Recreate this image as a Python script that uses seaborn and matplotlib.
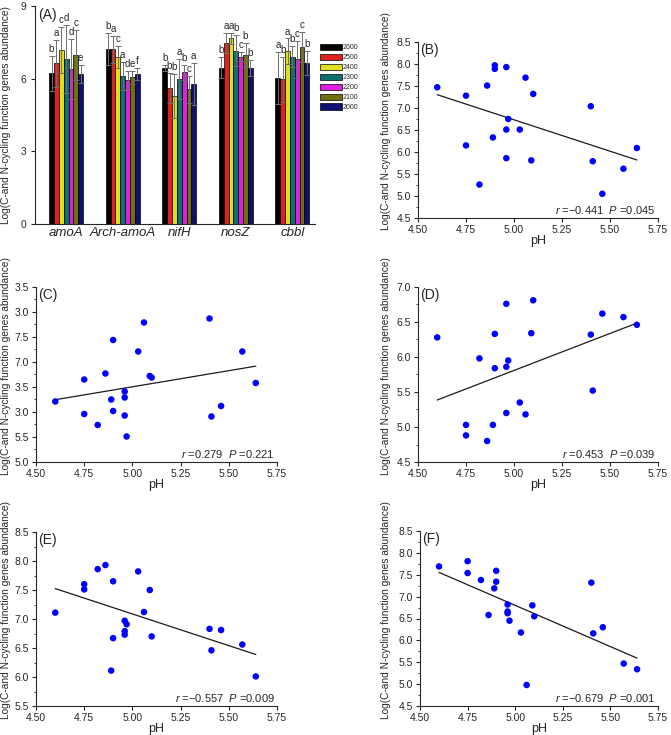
import numpy as np
import pandas as pd
import matplotlib
matplotlib.use("Agg")
import matplotlib.pyplot as plt
from matplotlib.ticker import MultipleLocator, FixedLocator
import seaborn as sns

# ---- data ----
genes = ["amoA", "Arch-amoA", "nifH", "nosZ", "cbbl"]
elevations = ["2600", "2500", "2400", "2300", "2200", "2100", "2000"]
bar_colors = ["#000000", "#FF0000", "#FFFF00", "#008080", "#FF00FF", "#808000", "#000080"]

# mean values per gene, ordered 2600 -> 2000
amoA_mean = [6.23, 6.63, 7.18, 6.80, 6.39, 6.98, 6.20]
arch_mean = [7.21, 7.21, 6.90, 6.11, 5.94, 6.05, 6.19]
nifH_mean = [6.43, 5.60, 5.28, 5.97, 6.26, 5.56, 5.77]
nosZ_mean = [6.45, 7.46, 7.66, 7.16, 6.91, 6.98, 6.45]
cbbl_mean = [6.04, 5.97, 7.14, 6.91, 6.80, 7.32, 6.66]

# upper end of the error bars
amoA_top = [6.95, 7.60, 8.12, 8.20, 7.64, 8.00, 6.56]
arch_top = [7.87, 7.76, 7.35, 6.70, 6.32, 6.33, 6.45]
nifH_top = [6.56, 6.22, 6.19, 6.80, 6.56, 6.11, 6.63]
nosZ_top = [6.88, 7.87, 7.90, 7.80, 7.11, 7.49, 6.77]
cbbl_top = [7.11, 6.90, 7.66, 7.35, 7.57, 7.94, 7.16]

amoA_letters = ["b", "a", "c", "d", "d", "c", "e"]
arch_letters = ["b", "a", "c", "a", "d", "e", "f"]
nifH_letters = ["b", "b", "b", "a", "b", "c", "a"]
nosZ_letters = ["b", "a", "a", "b", "c", "b", "b"]
cbbl_letters = ["a", "b", "a", "b", "c", "c", "b"]

ph = [4.60, 4.75, 4.75, 4.82, 4.86, 4.89, 4.90, 4.90, 4.96, 4.96, 4.96,
      4.97, 5.03, 5.06, 5.09, 5.10, 5.40, 5.41, 5.46, 5.57, 5.64]
B_vals = [7.47, 7.28, 6.15, 5.26, 7.51, 6.33, 7.97, 7.89, 7.93, 6.51, 5.86,
          6.75, 6.51, 7.69, 5.81, 7.32, 7.04, 5.79, 5.05, 5.62, 6.09]
C_vals = [6.21, 6.65, 5.96, 5.74, 6.77, 6.25, 7.44, 6.02, 6.41, 6.29, 5.93,
          5.51, 7.21, 7.79, 6.72, 6.69, 7.87, 5.91, 6.12, 7.21, 6.58]
D_vals = [6.28, 5.03, 4.88, 5.98, 4.80, 5.03, 6.33, 5.84, 6.76, 5.86, 5.20,
          5.95, 5.35, 5.18, 6.34, 6.81, 6.32, 5.52, 6.62, 6.57, 6.46]
E_vals = [7.11, 7.60, 7.51, 7.86, 7.93, 6.11, 7.65, 6.67, 6.97, 6.79, 6.73,
          6.91, 7.82, 7.12, 7.50, 6.70, 6.83, 6.46, 6.81, 6.56, 6.01]
F_vals = [7.69, 7.81, 7.54, 7.38, 6.58, 7.19, 7.59, 7.34, 6.82, 6.66, 6.62,
          6.45, 6.18, 4.98, 6.80, 6.55, 7.32, 6.16, 6.30, 5.47, 5.34]

stats_B = r"$r$ =−0.441  $P$ =0.045"
stats_C = r"$r$ =0.279  $P$ =0.221"
stats_D = r"$r$ =0.453  $P$ =0.039"
stats_E = r"$r$ =−0.557  $P$ =0.009"
stats_F = r"$r$ =−0.679  $P$ =0.001"

# tick labels of panel C as they appear in the figure
C_ticklabels = ["5.0", "5.5", "3.0", "3.5", "7.0", "7.5", "3.0", "3.5"]

means = [amoA_mean, arch_mean, nifH_mean, nosZ_mean, cbbl_mean]
tops = [amoA_top, arch_top, nifH_top, nosZ_top, cbbl_top]
letters = [amoA_letters, arch_letters, nifH_letters, nosZ_letters, cbbl_letters]

rows = []
for g, m in zip(genes, means):
    for e, v in zip(elevations, m):
        rows.append({"gene": g, "elev": e, "value": v})
bar_df = pd.DataFrame(rows)

# ---- style ----
sns.set_style("ticks")
plt.rcParams["font.family"] = ["Liberation Sans", "DejaVu Sans"]
plt.rcParams["mathtext.fontset"] = "custom"
plt.rcParams["mathtext.rm"] = "Liberation Sans"
plt.rcParams["mathtext.it"] = "Liberation Sans:italic"
plt.rcParams["xtick.major.size"] = 3
plt.rcParams["ytick.major.size"] = 3
plt.rcParams["ytick.minor.size"] = 1.5
plt.rcParams["axes.linewidth"] = 0.8

W, H = 671, 735
fig = plt.figure(figsize=(W / 100, H / 100), dpi=100)


def box(l, t, r, b):
    return [l / W, 1 - b / H, (r - l) / W, (b - t) / H]


ylab = "Log(C-and N-cycling function genes abundance)"
ylab_size = 7.3

# ---- panel A ----
rectA = (35, 6, 315, 224)
axA = fig.add_axes(box(*rectA))
sns.barplot(data=bar_df, x="gene", y="value", hue="elev", hue_order=elevations,
            palette=bar_colors, errorbar=None, width=0.6, gap=0,
            edgecolor="black", linewidth=0.5, legend=False, ax=axA)
bar_containers = list(axA.containers)
for i, cont in enumerate(bar_containers):
    for j, bar in enumerate(cont.patches):
        xc = bar.get_x() + bar.get_width() / 2
        h = bar.get_height()
        err = tops[j][i] - means[j][i]
        axA.errorbar(xc, h, yerr=err, color="#6e6e6e", lw=0.7, capsize=2,
                     capthick=0.7, zorder=5)
        axA.text(xc, tops[j][i] + 0.08, letters[j][i], ha="center",
                 va="bottom", fontsize=7)
axA.set_ylim(0, 9)
axA.set_xlim(-0.55, 4.4)
axA.yaxis.set_major_locator(MultipleLocator(3))
axA.set_xlabel("")
axA.set_ylabel(ylab, fontsize=ylab_size)
axA.yaxis.set_label_coords((11 - rectA[0]) / (rectA[2] - rectA[0]), 0.5)
axA.tick_params(axis="y", labelsize=7.5)
axA.tick_params(axis="x", length=0, labelsize=9.5, pad=2)
for t in axA.get_xticklabels():
    t.set_style("italic")
axA.text(0.01, 0.99, "(A)", transform=axA.transAxes, ha="left", va="top", fontsize=10)
sns.despine(ax=axA)
axA.legend(handles=bar_containers, labels=elevations, loc="upper left",
           bbox_to_anchor=(320 / W, 1 - 44 / H), bbox_transform=fig.transFigure,
           frameon=False, fontsize=5, handlelength=3.2, handleheight=1.0,
           labelspacing=0.35, handletextpad=0.1, borderpad=0, borderaxespad=0)


# ---- scatter panels ----
def scatter_panel(rect, vals, ylim, step, tag, stat, label_x, ticklabels=None):
    ax = fig.add_axes(box(*rect))
    sns.regplot(x=ph, y=vals, ax=ax, ci=None, truncate=True,
                scatter_kws=dict(s=22, color="#0000FF", alpha=1,
                                 edgecolors="none", zorder=3),
                line_kws=dict(color="#1a1a1a", lw=0.9))
    ax.set_xlim(4.5, 5.75)
    ax.set_ylim(*ylim)
    ax.xaxis.set_major_locator(MultipleLocator(0.25))
    ax.yaxis.set_major_locator(MultipleLocator(step))
    ax.yaxis.set_minor_locator(MultipleLocator(step / 2))
    ax.xaxis.set_major_formatter(matplotlib.ticker.FormatStrFormatter("%.2f"))
    ax.yaxis.set_major_formatter(matplotlib.ticker.FormatStrFormatter("%.1f"))
    if ticklabels is not None:
        ticks = np.arange(ylim[0], ylim[1] + 1e-6, step)
        ax.yaxis.set_major_locator(FixedLocator(ticks))
        ax.set_yticklabels(ticklabels)
    ax.tick_params(labelsize=7.5, pad=2)
    ax.tick_params(axis="y", which="minor", left=True)
    ax.set_xlabel("pH", fontsize=9, labelpad=0)
    ax.set_ylabel(ylab, fontsize=ylab_size)
    ax.yaxis.set_label_coords((label_x - rect[0]) / (rect[2] - rect[0]), 0.55)
    ax.text(0.01, 0.995, tag, transform=ax.transAxes, ha="left", va="top", fontsize=10)
    ax.text(0.99, 0.01, stat, transform=ax.transAxes, ha="right", va="bottom", fontsize=8)
    sns.despine(ax=ax)
    return ax


scatter_panel((418, 42, 658, 218), B_vals, (4.5, 8.5), 0.5, "(B)", stats_B, 391)
scatter_panel((36, 287, 277, 462), C_vals, (5.0, 8.5), 0.5, "(C)", stats_C, 11, C_ticklabels)
scatter_panel((418, 287, 658, 462), D_vals, (4.5, 7.0), 0.5, "(D)", stats_D, 391)
scatter_panel((36, 532, 277, 706), E_vals, (5.5, 8.5), 0.5, "(E)", stats_E, 11)
scatter_panel((420, 531, 658, 706), F_vals, (4.5, 8.5), 0.5, "(F)", stats_F, 391)

fig.savefig("out.png", dpi=100)
